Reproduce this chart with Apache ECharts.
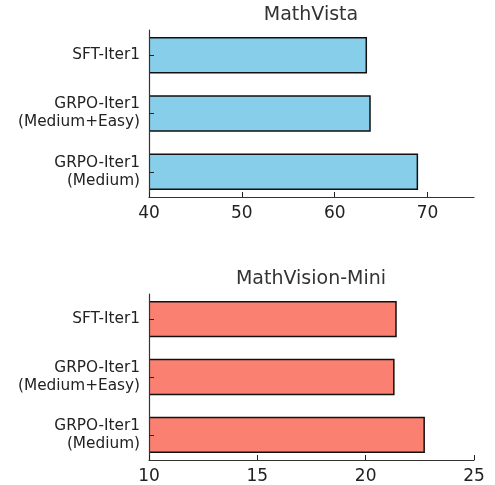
<!DOCTYPE html>
<html>
    <head>
        <meta charset="utf-8">
        <title>MathVista / MathVision-Mini</title>
        <script src="https://cdn.jsdelivr.net/npm/echarts@6/dist/echarts.min.js"></script>
    </head>
    <body style="margin:0">
        <div id="chart" style="width: 495px;height:485px;"></div>
        <script type="text/javascript">
            // categories, top to bottom
            var categories = ['SFT-Iter1', 'GRPO-Iter1\n(Medium+Easy)', 'GRPO-Iter1\n(Medium)'];
            var mathVista = [63.4, 63.8, 68.9];
            var mathVisionMini = [21.4, 21.3, 22.7];
            var vistaTicks = [40, 50, 60, 70];
            var visionTicks = [10, 15, 20, 25];

            var font = 'DejaVu Sans';
            var myChart = echarts.init(document.getElementById('chart'));

            // bar drawn through the axis scales, height 0.6 of a category step
            function barRenderer(color, xMin) {
                return function(params, api) {
                    var v = api.value(0), i = api.value(1);
                    var start = api.coord([xMin, i]);
                    var end = api.coord([v, i]);
                    var h = api.size([0, 0.6])[1];
                    return {
                        type: 'rect',
                        shape: {x: start[0] - 2, y: start[1] - h / 2, width: end[0] - start[0] + 2, height: h},
                        style: {fill: color, stroke: '#111', lineWidth: 1.5}
                    };
                };
            }

            function xAxisFor(idx, min, max, ticks) {
                return {
                    type: 'value', gridIndex: idx, min: min, max: max, z: 5,
                    axisLine: {onZero: false, lineStyle: {color: '#333', width: 1.2}},
                    axisTick: {inside: true, length: 5, customValues: ticks, lineStyle: {color: '#222'}},
                    axisLabel: {customValues: ticks, fontFamily: font, fontSize: 17, color: '#222', margin: 8},
                    splitLine: {show: false}
                };
            }
            function yAxisFor(idx) {
                return {
                    type: 'value', gridIndex: idx, min: -0.433, max: 2.433, inverse: true, z: 5,
                    axisLine: {show: true, onZero: false, lineStyle: {color: '#333', width: 1.2}},
                    axisTick: {show: true, inside: true, length: 5, customValues: [0, 1, 2], lineStyle: {color: '#222'}},
                    axisLabel: {customValues: [0, 1, 2], formatter: function(v){ return categories[v]; },
                        fontFamily: font, fontSize: 15.3, color: '#222', margin: 9, lineHeight: 18,
                        align: 'right', padding: [3, 0, 0, 0]},
                    splitLine: {show: false}
                };
            }

            var option = {
                animation: false,
                title: [
                    {text: 'MathVista', left: 306, top: 1, textAlign: 'center',
                        textStyle: {fontFamily: font, fontSize: 19, fontWeight: 'normal', color: '#333'}},
                    {text: 'MathVision-Mini', left: 306, top: 265, textAlign: 'center',
                        textStyle: {fontFamily: font, fontSize: 19, fontWeight: 'normal', color: '#333'}}
                ],
                grid: [
                    {left: 149, right: 21, top: 30, height: 167},
                    {left: 149, right: 21, top: 294, height: 167}
                ],
                xAxis: [xAxisFor(0, 40, 75, vistaTicks), xAxisFor(1, 10, 25, visionTicks)],
                yAxis: [yAxisFor(0), yAxisFor(1)],
                series: [
                    {type: 'custom', xAxisIndex: 0, yAxisIndex: 0, clip: true,
                        renderItem: barRenderer('#87CEEB', 40),
                        data: mathVista.map(function(v, i){ return [v, i]; })},
                    {type: 'custom', xAxisIndex: 1, yAxisIndex: 1, clip: true,
                        renderItem: barRenderer('#FA8072', 10),
                        data: mathVisionMini.map(function(v, i){ return [v, i]; })}
                ]
            };
            myChart.setOption(option);
        </script>
    </body>
</html>
